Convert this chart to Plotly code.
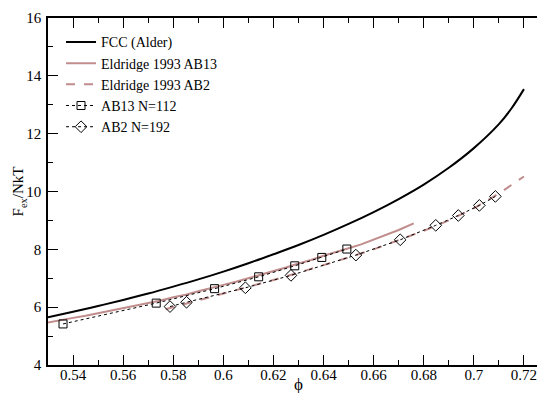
import plotly.graph_objects as go

# FCC (Alder) curve
fcc_phi = [0.53, 0.54, 0.55, 0.56, 0.57, 0.58, 0.59, 0.60, 0.61, 0.62, 0.63,
           0.64, 0.65, 0.66, 0.67, 0.68, 0.69, 0.70, 0.71, 0.715, 0.72]
fcc_f = [5.65, 5.84, 6.04, 6.25, 6.47, 6.71, 6.96, 7.23, 7.52, 7.83, 8.15,
         8.50, 8.88, 9.29, 9.74, 10.24, 10.82, 11.50, 12.33, 12.87, 13.54]

# Eldridge 1993 AB13
ab13_phi = [0.53, 0.535, 0.54, 0.545, 0.55, 0.555, 0.56, 0.565, 0.57, 0.575, 0.58,
            0.585, 0.59, 0.595, 0.60, 0.605, 0.61, 0.615, 0.62, 0.625, 0.63, 0.635,
            0.64, 0.645, 0.65, 0.655, 0.66, 0.665, 0.67, 0.676]
ab13_f = [5.47, 5.56, 5.63, 5.70, 5.79, 5.86, 5.95, 6.04, 6.14, 6.23, 6.34,
          6.43, 6.55, 6.65, 6.77, 6.88, 7.00, 7.12, 7.25, 7.37, 7.51, 7.63,
          7.78, 7.90, 8.04, 8.17, 8.33, 8.49, 8.67, 8.90]

# Eldridge 1993 AB2
ab2_phi = [0.577, 0.58, 0.59, 0.60, 0.61, 0.62, 0.63, 0.64, 0.65, 0.66,
           0.67, 0.68, 0.69, 0.70, 0.71, 0.72]
ab2_f = [5.93, 6.00, 6.23, 6.46, 6.70, 6.94, 7.19, 7.45, 7.72, 8.00,
         8.31, 8.64, 9.00, 9.42, 9.93, 10.52]

# simulation points
sq_phi = [0.536, 0.5732, 0.5965, 0.6141, 0.6285, 0.6393, 0.6493]
sq_f = [5.42, 6.14, 6.64, 7.05, 7.43, 7.72, 8.01]

dia_phi = [0.5787, 0.5853, 0.6088, 0.6270, 0.6529, 0.6706, 0.6848, 0.6938, 0.7022, 0.7086]
dia_f = [6.02, 6.17, 6.67, 7.10, 7.80, 8.33, 8.83, 9.17, 9.52, 9.83]

pink = "rgb(192,140,140)"
font = "Liberation Serif"

fig = go.Figure()
fig.add_trace(go.Scatter(x=fcc_phi, y=fcc_f, mode="lines", name="FCC (Alder)",
                         line=dict(color="black", width=2, shape="spline")))
fig.add_trace(go.Scatter(x=ab13_phi, y=ab13_f, mode="lines", name="Eldridge 1993 AB13",
                         line=dict(color=pink, width=2)))
fig.add_trace(go.Scatter(x=ab2_phi, y=ab2_f, mode="lines", name="Eldridge 1993 AB2",
                         line=dict(color=pink, width=2, dash="dash")))
fig.add_trace(go.Scatter(x=sq_phi, y=sq_f, mode="lines+markers", name="AB13 N=112",
                         line=dict(color="black", width=1, dash="dot"),
                         marker=dict(symbol="square-open", size=8, color="black",
                                     line=dict(width=1))))
fig.add_trace(go.Scatter(x=dia_phi, y=dia_f, mode="lines+markers", name="AB2 N=192",
                         line=dict(color="black", width=1, dash="dot"),
                         marker=dict(symbol="diamond-open", size=9, color="black",
                                     line=dict(width=1))))

axis_common = dict(ticks="inside", ticklen=10, tickcolor="black", showline=True,
                   linecolor="black", linewidth=1.5, mirror="ticks", showgrid=False,
                   zeroline=False, ticklabeloverflow="allow",
                   tickfont=dict(family=font, size=15, color="black"))

fig.update_xaxes(range=[0.53, 0.73], tick0=0.54, dtick=0.02, tickformat=".2~f",
                 ticklabelstandoff=-5,
                 minor=dict(dtick=0.01, ticklen=5, ticks="inside", tickcolor="black"),
                 **axis_common)
fig.update_yaxes(range=[4, 16], tick0=4, dtick=2, ticklabelstandoff=2,
                 minor=dict(dtick=1, ticklen=5, ticks="inside", tickcolor="black"),
                 **axis_common)

fig.add_annotation(text="F<sub>ex</sub>/NkT", xref="paper", yref="paper", x=-0.058, y=0.5,
                   xanchor="center", yanchor="middle", textangle=-90, showarrow=False,
                   font=dict(family=font, size=15, color="black"))
fig.add_annotation(text="ϕ", xref="paper", yref="paper", x=0.5, y=-0.022,
                   xanchor="center", yanchor="top", showarrow=False,
                   font=dict(family=font, size=17, color="black"))

fig.update_layout(width=545, height=393, plot_bgcolor="white", paper_bgcolor="white",
                  margin=dict(l=40, r=2, t=5, b=36),
                  legend=dict(x=0.026, y=0.976, xanchor="left", yanchor="top",
                              bgcolor="rgba(0,0,0,0)", tracegroupgap=0,
                              font=dict(family=font, size=14, color="black")))

fig.write_html("out.html")
